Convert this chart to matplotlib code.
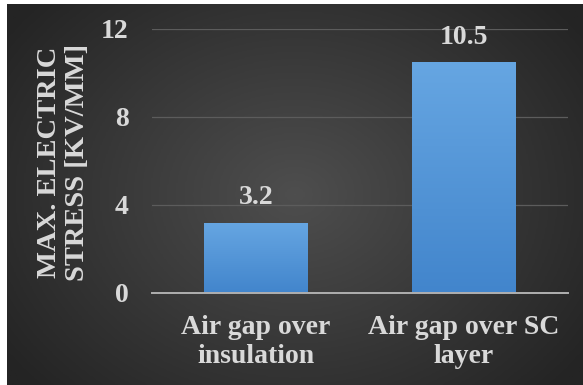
#!/usr/bin/env python3
# Bar chart of max. electric stress for two air-gap positions, dark slide style.
import numpy as np
import matplotlib.pyplot as plt
from matplotlib.colors import LinearSegmentedColormap

categories = ["Air gap over\ninsulation", "Air gap over SC\nlayer"]
max_stress = [3.2, 10.5]
y_ticks = [0, 4, 8, 12]
y_label = "MAX. ELECTRIC\nSTRESS [KV/MM]"

TEXT = "#d9d9d9"
plt.rcParams["font.family"] = ["Liberation Serif", "DejaVu Serif"]
plt.rcParams["font.weight"] = "bold"

W, H = 583, 385
fig = plt.figure(figsize=(W / 100, H / 100), dpi=100, facecolor="white")

# radial dark-grey backdrop (thin white strip left and top)
bg = fig.add_axes([7 / W, 0, 1 - 7 / W, 1 - 4 / H])
bg.set_axis_off()
yy, xx = np.mgrid[0:1:300j, 0:1:400j]
r = np.sqrt(((xx - 0.5) / 0.62) ** 2 + ((yy - 0.5) / 0.75) ** 2)
shade = np.clip(1 - r, 0, 1)
bg_cmap = LinearSegmentedColormap.from_list("bg", ["#242424", "#4e4e4e"])
bg.imshow(shade, cmap=bg_cmap, aspect="auto", extent=[0, 1, 0, 1], vmin=0, vmax=1)
bg.set_xlim(0, 1)
bg.set_ylim(0, 1)

ax = fig.add_axes([152 / W, 1 - 293 / H, (568 - 152) / W, (293 - 29) / H])
ax.patch.set_alpha(0)
x = np.arange(len(categories))
bars = ax.bar(x, max_stress, width=0.5, color="#5b9bd5", zorder=3)

# vertical blue gradient inside each bar
bar_cmap = LinearSegmentedColormap.from_list("bar", ["#4285cc", "#66a6e2"])
grad = np.linspace(0, 1, 256).reshape(-1, 1)
for b in bars:
    x0, w, h = b.get_x(), b.get_width(), b.get_height()
    im = ax.imshow(grad, cmap=bar_cmap, aspect="auto", origin="lower",
                   extent=[x0, x0 + w, 0, h], zorder=4)
    im.set_clip_path(b)
    ax.text(x0 + w / 2, h + 0.55, f"{h:g}", ha="center", va="bottom",
            color=TEXT, fontsize=20, fontweight="bold", zorder=5)

ax.set_xlim(-0.5, len(categories) - 0.5)
ax.set_ylim(0, 12)
ax.set_yticks(y_ticks)
ax.set_xticks(x)
ax.set_xticklabels(categories, linespacing=1.2)
ax.tick_params(axis="both", length=0, labelsize=20, labelcolor=TEXT)
ax.tick_params(axis="y", pad=17)
ax.tick_params(axis="x", pad=16)
for lbl in ax.get_xticklabels() + ax.get_yticklabels():
    lbl.set_fontweight("bold")

ax.grid(axis="y", color="#5c5c5c", linewidth=0.9, zorder=0)
for side in ["top", "right", "left"]:
    ax.spines[side].set_visible(False)
ax.spines["bottom"].set_color("#b0b0b0")
ax.spines["bottom"].set_linewidth(1.4)
ax.spines["bottom"].set_zorder(6)

fig.text(63.5 / W, 1 - 162 / H, y_label, rotation=90, ha="center", va="center",
         color=TEXT, fontsize=20.5, fontweight="bold", linespacing=1.2,
         multialignment="center")

fig.savefig("out.png", dpi=100, facecolor="white")
